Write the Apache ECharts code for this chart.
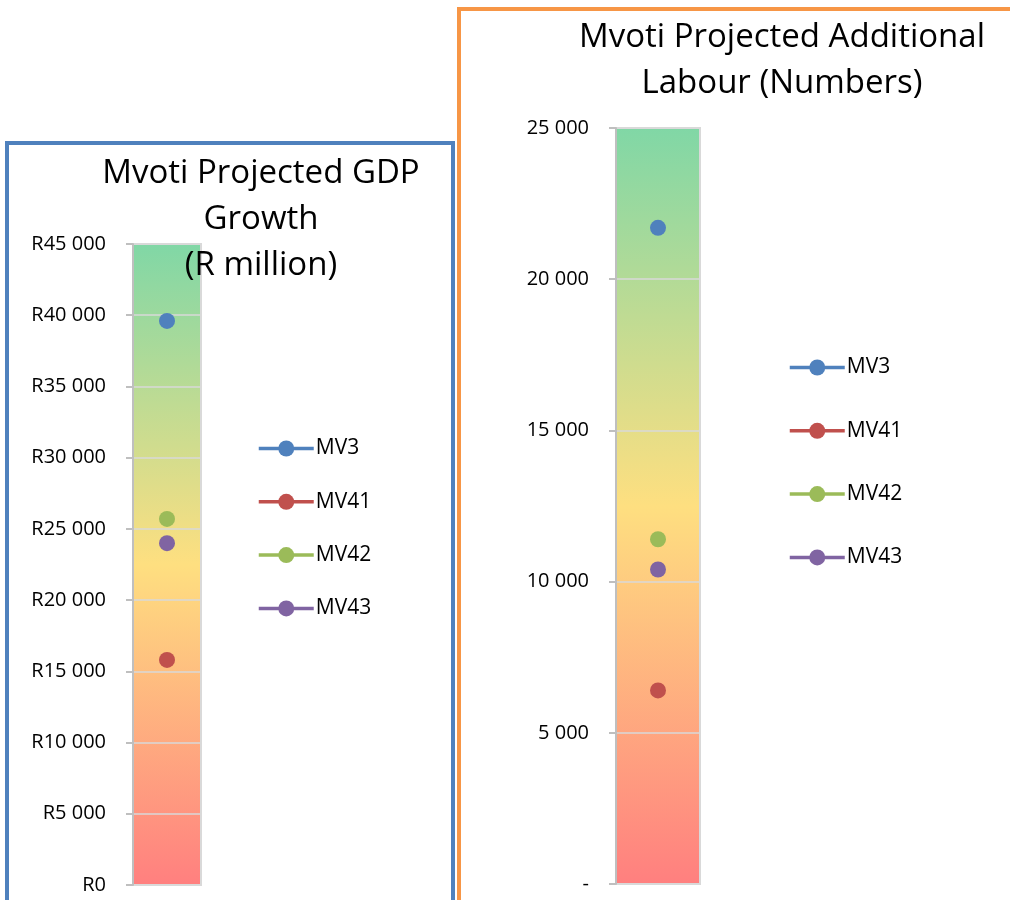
<!DOCTYPE html>
<html>
<head>
<meta charset="utf-8">
<script src="https://cdn.jsdelivr.net/npm/echarts@6/dist/echarts.min.js"></script>
<style>
  html, body { margin: 0; padding: 0; overflow: hidden; background: #fff; }
  #chart { width: 1010px; height: 900px; }
</style>
</head>
<body>
<div id="chart"></div>
<script>
// Mvoti municipality projections per scenario
const scenarios = ['MV3', 'MV41', 'MV42', 'MV43'];
const scenarioColors = ['#4f81bd', '#c0504d', '#9bbb59', '#8064a2'];
const gdpGrowth = [39600, 15800, 25700, 24000];      // R million
const additionalLabour = [21700, 6400, 11400, 10400]; // numbers

const gdpTitle = 'Mvoti Projected GDP\nGrowth\n(R million)';
const labourTitle = 'Mvoti Projected Additional\nLabour (Numbers)';
const gdpAxis = { min: 0, max: 45000, interval: 5000 };
const labourAxis = { min: 0, max: 25000, interval: 5000 };

const FONT = '"Open Sans", sans-serif';

function spaced(v) {
  return String(v).replace(/\B(?=(\d{3})+(?!\d))/g, ' ');
}

const plotFill = {
  type: 'linear', x: 0, y: 0, x2: 0, y2: 1,
  colorStops: [
    { offset: 0, color: '#80d7a6' },
    { offset: 0.5, color: '#fedf80' },
    { offset: 1, color: '#ff7f7f' }
  ]
};

function yAxisFor(idx, range, fmt) {
  return {
    gridIndex: idx,
    type: 'value',
    min: range.min, max: range.max, interval: range.interval,
    axisLine: { show: true, lineStyle: { color: '#bfbfbf', width: 2 } },
    axisTick: { show: true, length: 7, lineStyle: { color: '#bfbfbf', width: 2 } },
    axisLabel: { color: '#000', fontFamily: FONT, fontSize: 20, margin: 27, formatter: fmt },
    splitLine: { show: true, lineStyle: { color: '#d9d9d9', width: 1.5 } }
  };
}

function xAxisFor(idx) {
  return {
    gridIndex: idx,
    type: 'category',
    data: [''],
    axisLine: { show: false },
    axisTick: { show: false },
    axisLabel: { show: false },
    splitLine: { show: false }
  };
}

function seriesFor(idx, values) {
  return scenarios.map((name, i) => ({
    name: name,
    type: 'line',
    xAxisIndex: idx,
    yAxisIndex: idx,
    data: [values[i]],
    symbol: 'circle',
    symbolSize: 16,
    showSymbol: true,
    itemStyle: { color: scenarioColors[i] },
    lineStyle: { color: scenarioColors[i], width: 3.5 },
    z: 5
  }));
}

function legendFor(left, top, gap) {
  return {
    orient: 'vertical',
    left: left,
    top: top,
    itemWidth: 55,
    itemHeight: 20,
    itemGap: gap,
    padding: 0,
    data: scenarios,
    lineStyle: { width: 3.5 },
    textStyle: { color: '#000', fontFamily: FONT, fontSize: 21, lineHeight: 20, padding: [0, 0, 0, -3] }
  };
}

const chart = echarts.init(document.getElementById('chart'), null, { renderer: 'canvas' });

const option = {
  animation: false,
  backgroundColor: '#fff',
  graphic: [
    {
      type: 'rect',
      shape: { x: 459, y: 9, width: 600, height: 960 },
      style: { fill: '#fff', stroke: '#f79646', lineWidth: 4 },
      z: -10
    },
    {
      type: 'rect',
      shape: { x: 7, y: 143, width: 446, height: 820 },
      style: { fill: '#fff', stroke: '#4f81bd', lineWidth: 4 },
      z: -10
    }
  ],
  title: [
    {
      text: gdpTitle,
      left: 261, top: 151, textAlign: 'center', padding: 0,
      textStyle: { fontFamily: FONT, fontSize: 33, fontWeight: 'normal', color: '#000', lineHeight: 46, align: 'center' }
    },
    {
      text: labourTitle,
      left: 782, top: 15, textAlign: 'center', padding: 0,
      textStyle: { fontFamily: FONT, fontSize: 33, fontWeight: 'normal', color: '#000', lineHeight: 46, align: 'center' }
    }
  ],
  grid: [
    {
      left: 133, top: 244, width: 68, height: 641,
      show: true, backgroundColor: plotFill, borderColor: '#d9d9d9', borderWidth: 2
    },
    {
      left: 616, top: 128, width: 84, height: 756,
      show: true, backgroundColor: plotFill, borderColor: '#d9d9d9', borderWidth: 2
    }
  ],
  xAxis: [xAxisFor(0), xAxisFor(1)],
  yAxis: [
    yAxisFor(0, gdpAxis, v => 'R' + spaced(v)),
    yAxisFor(1, labourAxis, v => (v === 0 ? '-' : spaced(v)))
  ],
  legend: [
    legendFor(257, 438, 32.3),
    legendFor(788, 357, 42.3)
  ],
  series: [].concat(seriesFor(0, gdpGrowth), seriesFor(1, additionalLabour))
};

chart.setOption(option);
</script>
</body>
</html>
